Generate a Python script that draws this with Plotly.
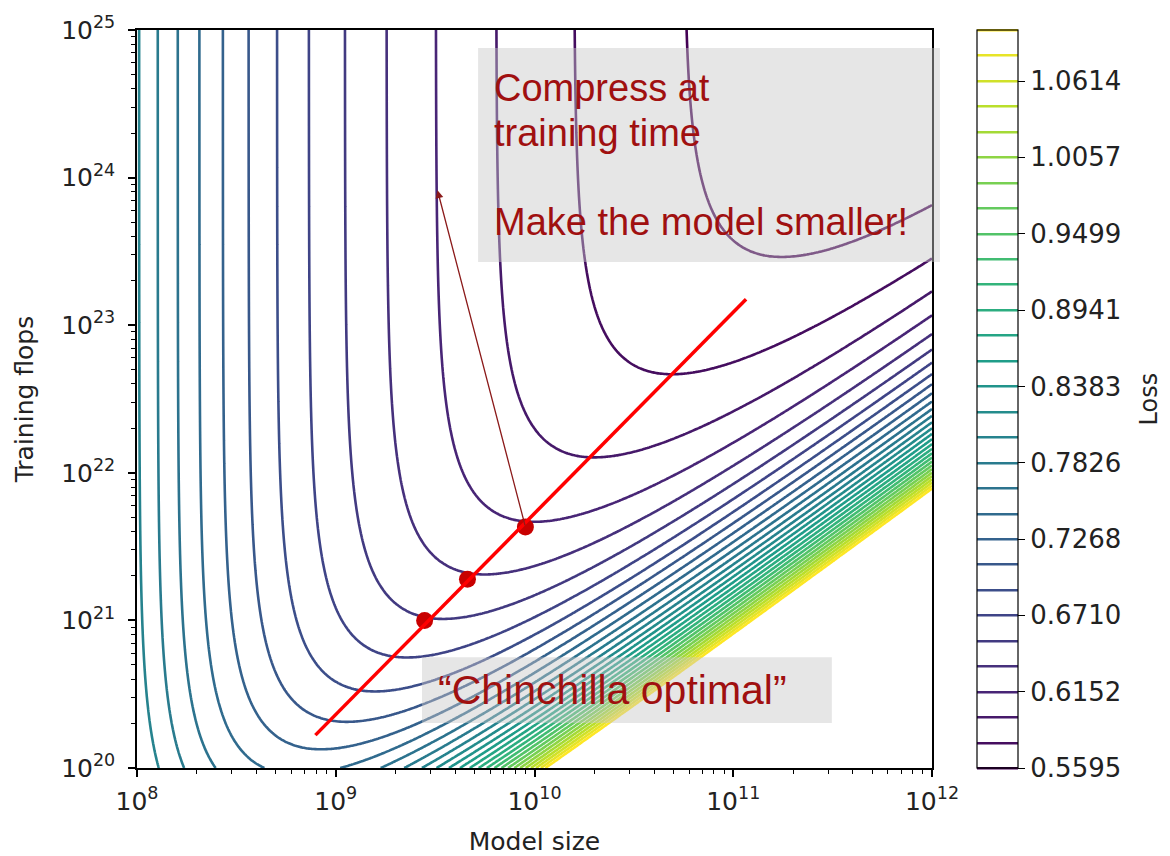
import numpy as np
import plotly.graph_objects as go

# ---- loss-surface model (Chinchilla-style fit) ----
E_IRR = 0.5225     # irreducible loss
A_N = 102.0        # model-size coefficient
ALPHA = 0.32       # model-size exponent
B_D = 2.53e6       # data coefficient
BETA = 0.73        # data exponent
FLOPS_PER_PARAM_TOKEN = 6.0

# axis ranges (log10)
N_LOG_RANGE = [8, 12]
C_LOG_RANGE = [20, 25]

# contour levels (30 levels, colorbar ticks every third level)
LEVEL_START = 0.5595
LEVEL_STEP = 0.018593
LEVEL_END = 1.0987
cbar_tickvals = [0.5595, 0.6152, 0.6710, 0.7268, 0.7826, 0.8383, 0.8941, 0.9499, 1.0057, 1.0614]
cbar_ticktext = ["0.5595", "0.6152", "0.6710", "0.7268", "0.7826", "0.8383", "0.8941", "0.9499", "1.0057", "1.0614"]

# annotations / markers
optimal_dots_n = [2.8e9, 4.6e9, 9.0e9]
optimal_dots_c = [1.0e21, 1.9e21, 4.3e21]
chinchilla_line_n = [7.9e8, 1.16e11]
chinchilla_line_c = [1.67e20, 1.5e23]
arrow_tail = (9.0e9, 4.3e21)
arrow_head = (3.25e9, 8.2e23)

x_tickvals = [1e8, 1e9, 1e10, 1e11, 1e12]
x_ticktext = ["10<sup>8</sup>", "10<sup>9</sup>", "10<sup>10</sup>", "10<sup>11</sup>", "10<sup>12</sup>"]
y_tickvals = [1e20, 1e21, 1e22, 1e23, 1e24, 1e25]
y_ticktext = ["10<sup>20</sup>", "10<sup>21</sup>", "10<sup>22</sup>", "10<sup>23</sup>", "10<sup>24</sup>", "10<sup>25</sup>"]

# ---- grid ----
N = np.logspace(N_LOG_RANGE[0], N_LOG_RANGE[1], 420)
C = np.logspace(C_LOG_RANGE[0], C_LOG_RANGE[1], 420)
NN, CC = np.meshgrid(N, C)
DD = CC / (FLOPS_PER_PARAM_TOKEN * NN)
Z = E_IRR + A_N / NN**ALPHA + B_D / DD**BETA

TXT = "#222222"
fig = go.Figure()
fig.add_trace(go.Contour(
    x=N, y=C, z=Z,
    colorscale="Viridis",
    contours=dict(start=LEVEL_START, end=LEVEL_END, size=LEVEL_STEP, coloring="lines"),
    line=dict(width=2.6),
    hoverinfo="skip",
    colorbar=dict(
        x=1.0566, xanchor="left", xpad=0, y=0.5, yanchor="middle", ypad=0,
        len=1.0, lenmode="fraction",
        thickness=41, outlinecolor="black", outlinewidth=1.2,
        tickvals=cbar_tickvals, ticktext=cbar_ticktext,
        ticks="outside", ticklen=7, tickcolor="black",
        tickfont=dict(family="DejaVu Sans", size=26, color=TXT),
    ),
))

fig.add_trace(go.Scatter(
    x=optimal_dots_n, y=optimal_dots_c, mode="markers",
    marker=dict(color="#c80000", size=17, line=dict(width=0)),
    hoverinfo="skip", showlegend=False,
))
fig.add_trace(go.Scatter(
    x=chinchilla_line_n, y=chinchilla_line_c, mode="lines",
    line=dict(color="#ff0000", width=3.5),
    hoverinfo="skip", showlegend=False,
))

axis_common = dict(
    type="log", showgrid=False, zeroline=False, automargin=False,
    showline=True, linecolor="black", linewidth=1.5, mirror=True,
    ticks="outside", ticklen=7, tickwidth=1.5, tickcolor="black",
    tickfont=dict(family="DejaVu Sans", size=25, color=TXT),
    minor=dict(ticks="outside", ticklen=4, tickwidth=1, tickcolor="black", dtick="D1"),
)

# page body adds an 8px offset, so the figure is sized/margined to compensate
fig.update_layout(
    width=1162, height=848,
    margin=dict(l=129, r=238, t=22, b=88),
    plot_bgcolor="white", paper_bgcolor="white",
    showlegend=False,
    xaxis=dict(axis_common, range=N_LOG_RANGE, tickvals=x_tickvals, ticktext=x_ticktext,
               ticklabelstandoff=3,
               title=dict(text="Model size", font=dict(family="DejaVu Sans", size=25, color=TXT), standoff=19)),
    yaxis=dict(axis_common, range=C_LOG_RANGE, tickvals=y_tickvals, ticktext=y_ticktext,
               ticklabelstandoff=8,
               title=dict(text="Training flops", font=dict(family="DejaVu Sans", size=25, color=TXT), standoff=20)),
)

# colorbar label
fig.add_annotation(xref="paper", yref="paper", x=1.2735, y=0.5, xanchor="center", yanchor="middle",
                   showarrow=False, text="Loss", textangle=-90,
                   font=dict(family="DejaVu Sans", size=24, color=TXT))

box_fill = "rgba(200,200,200,0.45)"
fig.add_shape(type="rect", xref="paper", yref="paper", x0=0.429, x1=1.010, y0=0.6856, y1=0.9756,
              fillcolor=box_fill, line=dict(width=0), layer="above")
fig.add_shape(type="rect", xref="paper", yref="paper", x0=0.3585, x1=0.874, y0=0.061, y1=0.150,
              fillcolor=box_fill, line=dict(width=0), layer="above")

text_red = "#a01010"
for line_text, ypos in [("Compress at", 0.9214), ("training time", 0.8604), ("Make the model smaller!", 0.7398)]:
    fig.add_annotation(xref="paper", yref="paper", x=0.446, y=ypos, xanchor="left", yanchor="middle",
                       align="left", showarrow=False, text=line_text,
                       font=dict(family="Liberation Sans", size=38, color=text_red))
fig.add_annotation(xref="paper", yref="paper", x=0.3765, y=0.1057, xanchor="left", yanchor="middle",
                   showarrow=False, text="\u201cChinchilla optimal\u201d",
                   font=dict(family="Liberation Sans", size=41, color=text_red))

fig.add_annotation(
    x=np.log10(arrow_head[0]), y=np.log10(arrow_head[1]),
    ax=np.log10(arrow_tail[0]), ay=np.log10(arrow_tail[1]),
    xref="x", yref="y", axref="x", ayref="y",
    showarrow=True, arrowhead=2, arrowsize=1.2, arrowwidth=1.3, arrowcolor="#8b1a1a", text="",
)

fig.write_html("out.html")
